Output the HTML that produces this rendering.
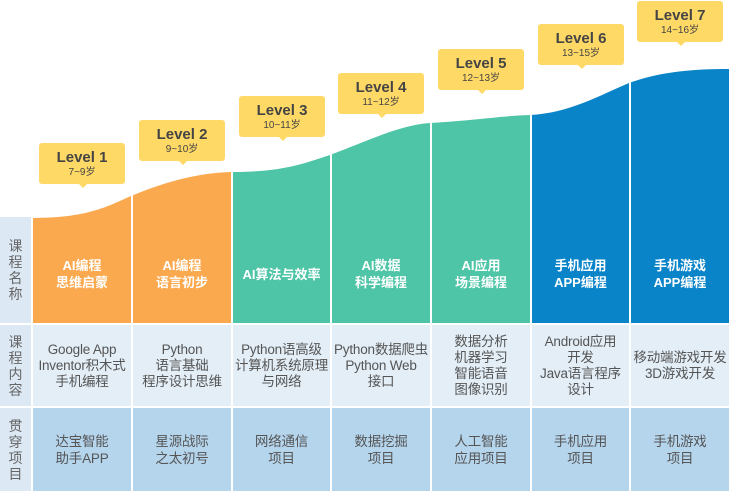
<!DOCTYPE html>
<html><head><meta charset="utf-8"><style>
body{margin:0;width:734px;height:500px;background:#fff;overflow:hidden;font-family:"Liberation Sans","Noto Sans CJK SC",sans-serif;}
svg{position:absolute;left:0;top:0}
.cell{position:absolute;display:flex;align-items:center;justify-content:center;text-align:center;font-size:13.5px;line-height:16px;color:#555;letter-spacing:-0.2px}
.head{color:#fff;font-weight:bold;font-size:13px;line-height:17px;letter-spacing:0}
.side{position:absolute;left:0;width:31px;background:#DCE9F4;color:#666;font-size:14px;line-height:16px;display:flex;align-items:center;justify-content:center;text-align:center}
.box{position:absolute;width:86px;height:41px;background:#FFD966;border-radius:3px;text-align:center;color:#444}
.box b{display:block;font-size:15px;margin-top:6px;line-height:17px}
.box span{display:block;font-size:10px;line-height:13px}
.box:after{content:"";position:absolute;left:40px;bottom:-4px;border:4px solid transparent;border-top-color:#FFD966;border-bottom:0}
</style></head><body>
<svg width="734" height="500">
<defs><clipPath id="c"><path d="M33,218 C90,218 110,205 131,196 C170,180 200,173 231,172 C280,172 300,165 330,155 C370,140 400,125 430,123 C480,120 500,116 530,115 C570,113 600,95 629,83 C660,72 690,69 729,69 L729,323 L33,323Z"/></clipPath></defs>
<g clip-path="url(#c)">
<rect x="33" y="60" width="98" height="264" fill="#FBA94F"/>
<rect x="133" y="60" width="98" height="264" fill="#FBA94F"/>
<rect x="233" y="60" width="97" height="264" fill="#4EC5A6"/>
<rect x="332" y="60" width="98" height="264" fill="#4EC5A6"/>
<rect x="432" y="60" width="98" height="264" fill="#4EC5A6"/>
<rect x="532" y="60" width="97" height="264" fill="#0A84C8"/>
<rect x="631" y="60" width="98" height="264" fill="#0A84C8"/>
</g></svg>
<div class="side" style="top:217px;height:106px">课<br>程<br>名<br>称</div>
<div class="side" style="top:325px;height:81px">课<br>程<br>内<br>容</div>
<div class="side" style="top:408px;height:83px">贯<br>穿<br>项<br>目</div>
<div id="grid"></div>
<script>
const xs=[33,133,233,332,432,532,631],ws=[98,98,97,98,98,97,98];
const levels=["Level 1","Level 2","Level 3","Level 4","Level 5","Level 6","Level 7"];
const ages=["7~9岁","9~10岁","10~11岁","11~12岁","12~13岁","13~15岁","14~16岁"];
const boxTops=[143,120,96,73,49,24,1];
const names=["AI编程<br>思维启蒙","AI编程<br>语言初步","AI算法与效率","AI数据<br>科学编程","AI应用<br>场景编程","手机应用<br>APP编程","手机游戏<br>APP编程"];
const contents=["Google App<br>Inventor积木式<br>手机编程","Python<br>语言基础<br>程序设计思维","Python语高级<br>计算机系统原理<br>与网络","Python数据爬虫<br>Python Web<br>接口","数据分析<br>机器学习<br>智能语音<br>图像识别","Android应用<br>开发<br>Java语言程序<br>设计","移动端游戏开发<br>3D游戏开发"];
const projects=["达宝智能<br>助手APP","星源战际<br>之太初号","网络通信<br>项目","数据挖掘<br>项目","人工智能<br>应用项目","手机应用<br>项目","手机游戏<br>项目"];
const g=document.getElementById('grid');
for(let i=0;i<7;i++){
 let b=document.createElement('div');b.className='box';b.style.left=(xs[i]+6)+'px';b.style.top=boxTops[i]+'px';
 
 
 b.innerHTML='<b>'+levels[i]+'</b><span>'+ages[i]+'</span>';g.appendChild(b);
 let h=document.createElement('div');h.className='cell head';h.style.cssText+=`left:${xs[i]}px;width:${ws[i]}px;top:225px;height:98px`;
 
 
 h.innerHTML=names[i];g.appendChild(h);
 let c=document.createElement('div');c.className='cell';c.style.cssText+=`left:${xs[i]}px;width:${ws[i]}px;top:325px;height:81px;background:#E3EEF7`;
 
 
 c.innerHTML=contents[i];g.appendChild(c);
 let p=document.createElement('div');p.className='cell';p.style.cssText+=`left:${xs[i]}px;width:${ws[i]}px;top:408px;height:83px;background:#B5D5ED;line-height:17px`;
 
 
 p.innerHTML=projects[i];g.appendChild(p);
}
</script>
</body></html>
